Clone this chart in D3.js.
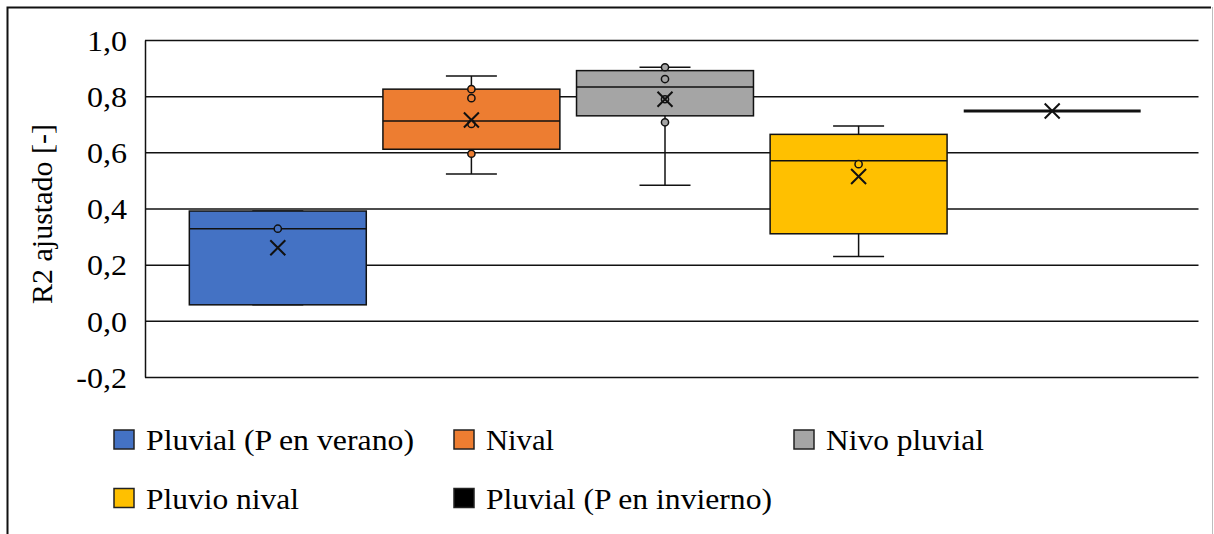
<!DOCTYPE html>
<html>
<head>
<meta charset="utf-8">
<script src="https://cdn.jsdelivr.net/npm/d3@7"></script>
</head>
<body style="margin:0">
<svg id="chart" width="1214" height="534" style="display:block;background:#fff"></svg>
<script>
// ---- data ----
const series = ["Pluvial (P en verano)", "Nival", "Nivo pluvial", "Pluvio nival", "Pluvial (P en invierno)"];
const colors = ["#4472C4", "#ED7D31", "#A5A5A5", "#FFC000", "#000000"];
const q1 = [0.057, 0.611, 0.730, 0.310, 0.747];
const median = [0.328, 0.712, 0.833, 0.570, 0.747];
const q3 = [0.391, 0.825, 0.891, 0.664, 0.747];
const whiskerMin = [0.057, 0.523, 0.483, 0.229, 0.747];
const whiskerMax = [0.391, 0.872, 0.903, 0.694, 0.747];
const mean = [0.260, 0.715, 0.789, 0.514, 0.747];
const innerPoints = [[0.328], [0.825, 0.793, 0.701, 0.595], [0.903, 0.861, 0.789, 0.707], [0.558], []];
const yTicks = [-0.2, 0.0, 0.2, 0.4, 0.6, 0.8, 1.0];
const yTitle = "R2 ajustado [-]";

// ---- layout ----
const svg = d3.select("#chart");
const plotLeft = 145, plotRight = 1198.5, plotTop = 40, plotBottom = 377;
const sx = 1.07; // horizontal text stretch seen in the reference
const serif = t => t.style("font-family", d => "'Times New Roman', 'Liberation Serif', Tinos, serif", "important");

const y = d3.scaleLinear().domain([-0.2, 1.0]).range([plotBottom, plotTop]);
const x = d3.scaleBand().domain(series).range([181, 1149]).padding(0);
const boxW = x.step() * 0.914;
const capW = 51;
const fmt = v => d3.format(".1f")(v).replace(".", ",").replace("\u2212", "-");

// outer frame
svg.append("path").attr("d", `M7.5,534 L7.5,7.5 L1211,7.5`)
  .attr("fill", "none").attr("stroke", "#111").attr("stroke-width", 2);
svg.append("line").attr("x1", 1212.5).attr("x2", 1212.5).attr("y1", 7).attr("y2", 534)
  .attr("stroke", "#bdbdbd").attr("stroke-width", 1);

// gridlines
const gridG = svg.append("g")
  .attr("transform", `translate(${plotLeft},0)`)
  .call(d3.axisRight(y).tickValues(yTicks).tickSize(plotRight - plotLeft).tickFormat(""));
gridG.select(".domain").remove();
gridG.selectAll(".tick line").attr("stroke", "#111").attr("stroke-width", 1.5);

// y axis with labels
const axG = svg.append("g")
  .attr("transform", `translate(${plotLeft},0)`)
  .call(d3.axisLeft(y).tickValues(yTicks).tickSize(0).tickPadding(18).tickFormat(fmt));
axG.attr("font-family", null).attr("font-size", null);
axG.select(".domain").attr("stroke", "#111").attr("stroke-width", 1.5);
axG.selectAll(".tick text")
  .call(serif)
  .attr("font-size", 30).attr("fill", "#000")
  .attr("x", -18 / sx).attr("dy", "0.34em")
  .attr("transform", `scale(${sx},1)`);

// y title
svg.append("text")
  .attr("transform", `translate(52,214) rotate(-90)`)
  .attr("text-anchor", "middle")
  .attr("font-size", 30)
  .attr("fill", "#000")
  .call(serif)
  .text(yTitle);

// boxes
const boxes = svg.append("g").selectAll("g").data(series).join("g");
boxes.each(function(s, i) {
  const g = d3.select(this);
  const cx = x(s) + x.bandwidth() / 2;
  g.append("line").attr("x1", cx).attr("x2", cx).attr("y1", y(q3[i])).attr("y2", y(whiskerMax[i]))
    .attr("stroke", "#111").attr("stroke-width", 1.5);
  g.append("line").attr("x1", cx).attr("x2", cx).attr("y1", y(q1[i])).attr("y2", y(whiskerMin[i]))
    .attr("stroke", "#111").attr("stroke-width", 1.5);
  [whiskerMax[i], whiskerMin[i]].forEach(v => {
    g.append("line").attr("x1", cx - capW / 2).attr("x2", cx + capW / 2).attr("y1", y(v)).attr("y2", y(v))
      .attr("stroke", "#111").attr("stroke-width", 1.5);
  });
  const top = y(q3[i]), bot = y(q1[i]);
  const flat = bot - top < 1;
  g.append("rect").attr("x", cx - boxW / 2).attr("y", top).attr("width", boxW)
    .attr("height", Math.max(bot - top, 0))
    .attr("fill", colors[i]).attr("stroke", "#111").attr("stroke-width", flat ? 3 : 1.5);
  g.append("line").attr("x1", cx - boxW / 2).attr("x2", cx + boxW / 2)
    .attr("y1", y(median[i])).attr("y2", y(median[i]))
    .attr("stroke", "#111").attr("stroke-width", flat ? 3 : 1.5);
  innerPoints[i].forEach(v => {
    g.append("circle").attr("cx", cx).attr("cy", y(v)).attr("r", 3.6)
      .attr("fill", colors[i]).attr("stroke", "#111").attr("stroke-width", 1.5);
  });
  const my = y(mean[i]), h = 7.5;
  g.append("path")
    .attr("d", `M${cx - h},${my - h}L${cx + h},${my + h}M${cx - h},${my + h}L${cx + h},${my - h}`)
    .attr("stroke", "#111").attr("stroke-width", 2).attr("fill", "none");
});

// legend
const legendPos = [
  {sx: 114, tx: 146, cy: 439.5},
  {sx: 454, tx: 486, cy: 439.5},
  {sx: 794, tx: 826, cy: 439.5},
  {sx: 114, tx: 146, cy: 498},
  {sx: 454, tx: 486, cy: 498}
];
const legendW = [268, 68, 158, 153, 286];
const leg = svg.append("g").selectAll("g").data(series).join("g");
leg.each(function(s, i) {
  const g = d3.select(this);
  const p = legendPos[i];
  g.append("rect").attr("x", p.sx).attr("y", p.cy - 9.5).attr("width", 20).attr("height", 19)
    .attr("fill", colors[i]).attr("stroke", "#222").attr("stroke-width", 1.5);
  g.append("text").attr("x", p.tx).attr("y", p.cy + 10.5)
    .attr("font-size", 30)
    .attr("fill", "#000")
    .call(serif)
    .attr("textLength", legendW[i]).attr("lengthAdjust", "spacingAndGlyphs")
    .text(s);
});
</script>
</body>
</html>
